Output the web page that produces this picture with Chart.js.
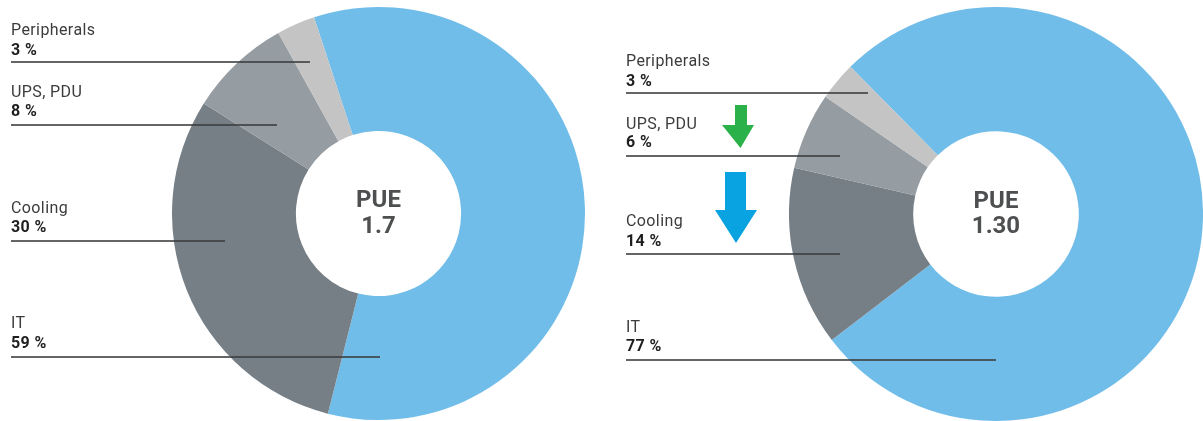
<!DOCTYPE html>
<html>
<head>
<meta charset="utf-8">
<script src="https://cdn.jsdelivr.net/npm/chart.js@4"></script>
<style>
  html,body{margin:0;padding:0;background:#fff;}
  #stage{position:relative;width:1203px;height:421px;overflow:hidden;background:#fff;font-family:Roboto,"Liberation Sans",sans-serif;}
  .box{position:absolute;}
  .t{position:absolute;white-space:nowrap;}
  .ln{position:absolute;height:2px;background:rgba(60,62,64,0.8);z-index:5;}
  svg{position:absolute;left:0;top:0;z-index:4;}
</style>
</head>
<body>
<div id="stage">
  <div class="box" style="left:172px;top:7px;width:413px;height:413px;"><canvas id="c1" width="413" height="413"></canvas></div>
  <div class="box" style="left:789px;top:7px;width:414px;height:414px;"><canvas id="c2" width="414" height="414"></canvas></div>
  <svg width="1203" height="421">
    <polygon points="735,105 747,105 747,125 754,125 740.5,148 722,125 735,125" fill="#2bb14a"/>
    <polygon points="725,172 746,172 746,210 757,210 736,243 715,210 725,210" fill="#0aa3e2"/>
  </svg>
</div>
<script>
// ---- data ----
const categories = ['IT', 'Cooling', 'UPS, PDU', 'Peripherals'];
const shareBefore = [59, 30, 8, 3];   // PUE 1.7
const shareAfter  = [77, 14, 6, 3];   // PUE 1.30
const pueValues   = ['1.7', '1.30'];
const segmentColors = ['#71bde9', '#767f86', '#959ca2', '#c4c4c4'];

// ---- layout (positions/styles only) ----
const panels = [
  { canvas: 'c1', data: shareBefore, pue: pueValues[0], rotation: -18.2,
    cx: 378.5, pueBase: [207, 233], labelX: 11,
    rows: { 'Peripherals': [35, 55.5, 62, 310], 'UPS, PDU': [97, 116.5, 125, 277],
            'Cooling': [213, 232, 241, 225], 'IT': [328, 348, 357, 380] } },
  { canvas: 'c2', data: shareAfter, pue: pueValues[1], rotation: -44.7,
    cx: 996, pueBase: [208, 233], labelX: 626,
    rows: { 'Peripherals': [66.5, 86, 93, 868], 'UPS, PDU': [129, 147.5, 156, 840],
            'Cooling': [226.5, 246, 254, 840], 'IT': [332, 351.5, 360, 996] } }
];

const stage = document.getElementById('stage');
function text(str, x, baseline, size, weight, color, center, spacing) {
  const d = document.createElement('div');
  d.className = 't';
  d.textContent = str;
  d.style.fontSize = size + 'px';
  d.style.lineHeight = size + 'px';
  d.style.fontWeight = weight;
  d.style.color = color;
  d.style.letterSpacing = (spacing || 0) + 'px';
  d.style.top = (baseline - 0.8415 * size) + 'px';
  d.style.left = x + 'px';
  d.style.zIndex = 6;
  if (center) d.style.transform = 'translateX(-50%)';
  stage.appendChild(d);
}
function line(x1, x2, y) {
  const d = document.createElement('div');
  d.className = 'ln';
  d.style.left = x1 + 'px';
  d.style.width = (x2 - x1) + 'px';
  d.style.top = (y - 1) + 'px';
  stage.appendChild(d);
}

panels.forEach(p => {
  new Chart(document.getElementById(p.canvas), {
    type: 'doughnut',
    data: {
      labels: categories,
      datasets: [{ data: p.data, backgroundColor: segmentColors, borderWidth: 0, hoverOffset: 0 }]
    },
    options: {
      responsive: false,
      animation: false,
      cutout: '40%',
      rotation: p.rotation,
      layout: { padding: 0 },
      plugins: { legend: { display: false }, tooltip: { enabled: false } },
      events: []
    }
  });
  categories.forEach((cat, i) => {
    const r = p.rows[cat];
    text(cat, p.labelX, r[0], 16, 400, '#3c3c3c', false, 0.4);
    text(p.data[i] + ' %', p.labelX, r[1], 16, 700, '#1e1e1e', false, 0.4);
    line(p.labelX, r[3], r[2]);
  });
  text('PUE', p.cx, p.pueBase[0], 24, 700, '#4e4f50', true, 0);
  text(p.pue, p.cx, p.pueBase[1], 24, 700, '#4e4f50', true, 0);
});
</script>
</body>
</html>
